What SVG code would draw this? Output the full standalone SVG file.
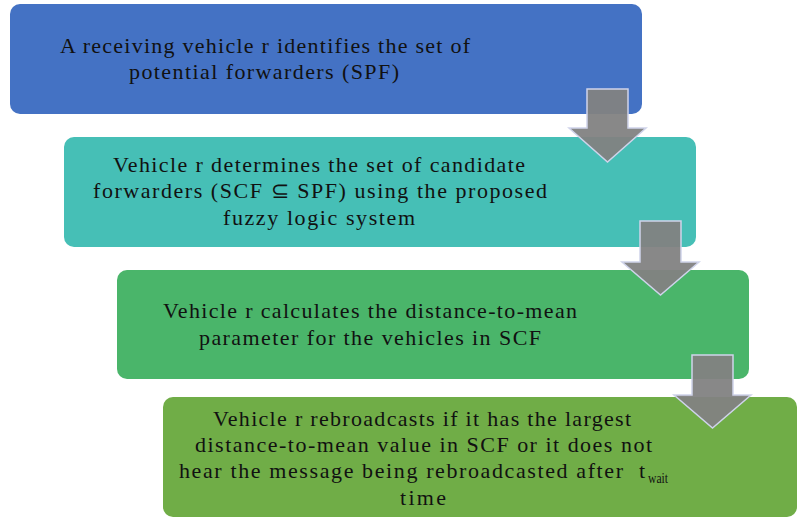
<svg xmlns="http://www.w3.org/2000/svg" width="799" height="519" viewBox="0 0 799 519">
  <style>
    .box { stroke: none; }
    .lbl { font-family: 'Liberation Serif', 'Times New Roman', serif; font-size: 22px; fill: #111111; }
    .sub { font-size: 14px; }
    .arrow { fill: #828282; fill-opacity: 0.95; stroke: #cfd3ea; stroke-width: 1.5; stroke-linejoin: miter; }
  </style>
  <rect width="799" height="519" fill="#ffffff"/>

  <g id="step1">
    <rect class="box" x="10" y="4" width="632" height="110" rx="10" fill="#4472C4"/>
    <text class="lbl" x="60" y="53" textLength="410" lengthAdjust="spacing">A receiving vehicle r identifies the set of</text>
    <text class="lbl" x="129" y="79" textLength="270" lengthAdjust="spacing">potential forwarders (SPF)</text>
  </g>

  <g id="step2">
    <rect class="box" x="64" y="137" width="632" height="110" rx="10" fill="#46BFB6"/>
    <text class="lbl" x="113" y="172" textLength="412" lengthAdjust="spacing">Vehicle r determines the set of candidate</text>
    <text class="lbl" x="93" y="198" textLength="454" lengthAdjust="spacing">forwarders (SCF ⊆ SPF) using the proposed</text>
    <text class="lbl" x="223" y="225" textLength="192" lengthAdjust="spacing">fuzzy logic system</text>
  </g>

  <g id="step3">
    <rect class="box" x="117" y="270" width="632" height="109" rx="10" fill="#4AB56A"/>
    <text class="lbl" x="163" y="318" textLength="414" lengthAdjust="spacing">Vehicle r calculates the distance-to-mean</text>
    <text class="lbl" x="199" y="345" textLength="342" lengthAdjust="spacing">parameter for the vehicles in SCF</text>
  </g>

  <g id="step4">
    <rect class="box" x="163" y="397" width="634" height="120" rx="10" fill="#70AD47"/>
    <text class="lbl" x="213" y="426" textLength="418" lengthAdjust="spacing">Vehicle r rebroadcasts if it has the largest</text>
    <text class="lbl" x="195" y="452" textLength="457" lengthAdjust="spacing">distance-to-mean value in SCF or it does not</text>
    <text class="lbl" x="179" y="478" textLength="466" lengthAdjust="spacing" xml:space="preserve">hear the message being rebroadcasted after  t</text>
    <text class="lbl sub" x="648" y="483" textLength="20" lengthAdjust="spacingAndGlyphs">wait</text>
    <text class="lbl" x="400" y="505" textLength="46" lengthAdjust="spacing">time</text>
  </g>

  <g id="connectors">
    <polygon class="arrow" points="587,89 628,89 628,128 646,128 607.5,162 569,128 587,128"/>
    <polygon class="arrow" points="640,221 681,221 681,262 699,262 660.5,295 622,262 640,262"/>
    <polygon class="arrow" points="692,355 733,355 733,395 751,395 712.5,428 674,395 692,395"/>
  </g>
</svg>
